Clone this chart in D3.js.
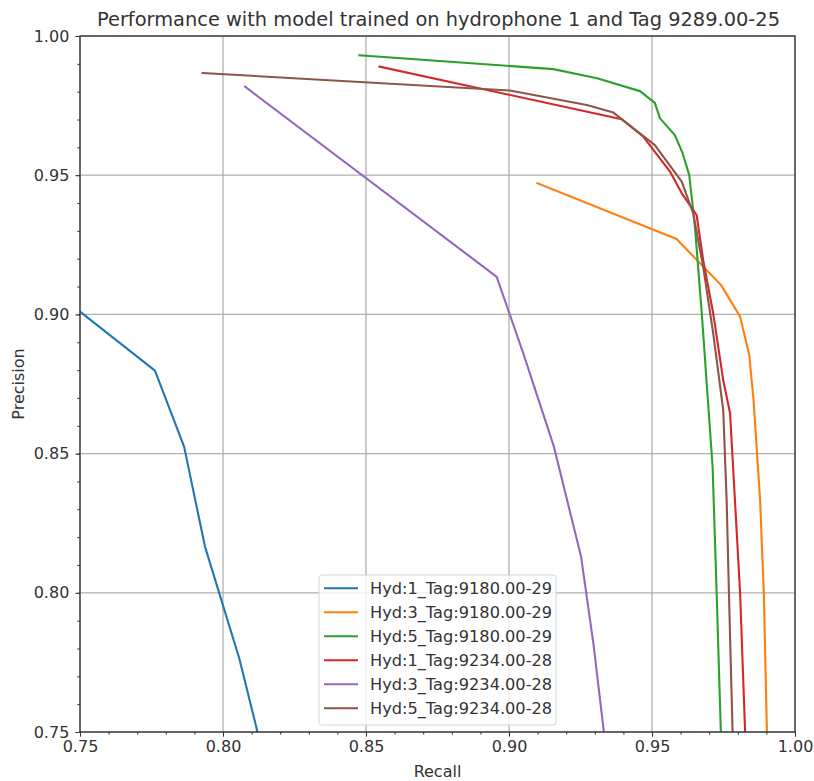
<!DOCTYPE html>
<html>
<head>
<meta charset="utf-8">
<script src="https://cdn.jsdelivr.net/npm/d3@7"></script>
<style>
  body { margin: 0; background: #fff; }
  svg { display: block; font-family: "DejaVu Sans", sans-serif; }
</style>
</head>
<body>
<svg id="chart" width="814" height="781"></svg>
<script>
// ---- data ----
const seriesNames = [
  "Hyd:1_Tag:9180.00-29",
  "Hyd:3_Tag:9180.00-29",
  "Hyd:5_Tag:9180.00-29",
  "Hyd:1_Tag:9234.00-28",
  "Hyd:3_Tag:9234.00-28",
  "Hyd:5_Tag:9234.00-28"
];
const seriesColors = ["#1f77b4", "#ff7f0e", "#2ca02c", "#d62728", "#9467bd", "#8c564b"];

const hyd1Tag9180Recall    = [0.7500, 0.7762, 0.7864, 0.7937, 0.8057, 0.8123];
const hyd1Tag9180Precision = [0.9010, 0.8798, 0.8525, 0.8166, 0.7764, 0.7490];

const hyd3Tag9180Recall    = [0.9099, 0.9586, 0.9741, 0.9808, 0.9840, 0.9855, 0.9878, 0.9891, 0.9902];
const hyd3Tag9180Precision = [0.9471, 0.9271, 0.9106, 0.8992, 0.8854, 0.8693, 0.8333, 0.8000, 0.7490];

const hyd5Tag9180Recall    = [0.8477, 0.9155, 0.9308, 0.9458, 0.9510, 0.9528, 0.9580, 0.9607, 0.9630, 0.9644, 0.9651, 0.9674, 0.9712, 0.9726, 0.9741];
const hyd5Tag9180Precision = [0.9931, 0.9881, 0.9848, 0.9802, 0.9760, 0.9704, 0.9644, 0.9579, 0.9501, 0.9375, 0.9303, 0.9005, 0.8450, 0.8000, 0.7490];

const hyd1Tag9234Recall    = [0.8547, 0.9394, 0.9470, 0.9563, 0.9604, 0.9656, 0.9679, 0.9714, 0.9749, 0.9773, 0.9790, 0.9808, 0.9826];
const hyd1Tag9234Precision = [0.9890, 0.9701, 0.9638, 0.9513, 0.9435, 0.9357, 0.9195, 0.9004, 0.8764, 0.8645, 0.8333, 0.8000, 0.7490];

const hyd3Tag9234Recall    = [0.8077, 0.8957, 0.9050, 0.9157, 0.9252, 0.9295, 0.9333];
const hyd3Tag9234Precision = [0.9818, 0.9135, 0.8860, 0.8525, 0.8130, 0.7818, 0.7490];

const hyd5Tag9234Recall    = [0.7929, 0.9003, 0.9272, 0.9365, 0.9510, 0.9604, 0.9644, 0.9679, 0.9714, 0.9749, 0.9761, 0.9769, 0.9782];
const hyd5Tag9234Precision = [0.9867, 0.9804, 0.9752, 0.9725, 0.9608, 0.9477, 0.9363, 0.9171, 0.8932, 0.8657, 0.8333, 0.8000, 0.7490];

const xTicks = [0.75, 0.80, 0.85, 0.90, 0.95, 1.00];
const yTicks = [0.75, 0.80, 0.85, 0.90, 0.95, 1.00];
const xDomain = [0.75, 1.00];
const yDomain = [0.75, 1.00];

const titleText = "Performance with model trained on hydrophone 1 and Tag 9289.00-25";
const xLabel = "Recall";
const yLabel = "Precision";

// ---- build ----
const recallSets = [hyd1Tag9180Recall, hyd3Tag9180Recall, hyd5Tag9180Recall, hyd1Tag9234Recall, hyd3Tag9234Recall, hyd5Tag9234Recall];
const precisionSets = [hyd1Tag9180Precision, hyd3Tag9180Precision, hyd5Tag9180Precision, hyd1Tag9234Precision, hyd3Tag9234Precision, hyd5Tag9234Precision];
const series = seriesNames.map((name, i) => ({
  name, color: seriesColors[i],
  points: recallSets[i].map((r, j) => [r, precisionSets[i][j]])
}));

const margin = {left: 80, top: 36, right: 19, bottom: 49};
const W = 814, H = 781;
const iw = W - margin.left - margin.right;
const ih = H - margin.top - margin.bottom;
const textColor = "#333";
const fs = 16;

const svg = d3.select("#chart");
const x = d3.scaleLinear().domain(xDomain).range([0, iw]);
const y = d3.scaleLinear().domain(yDomain).range([ih, 0]);

const g = svg.append("g").attr("transform", `translate(${margin.left},${margin.top})`);

svg.append("defs").append("clipPath").attr("id", "clip")
  .append("rect").attr("width", iw).attr("height", ih);

// grid
g.append("g").selectAll("line").data(xTicks).join("line")
  .attr("x1", d => x(d)).attr("x2", d => x(d)).attr("y1", 0).attr("y2", ih)
  .attr("stroke", "#b0b0b0").attr("stroke-width", 1.3);
g.append("g").selectAll("line").data(yTicks).join("line")
  .attr("y1", d => y(d)).attr("y2", d => y(d)).attr("x1", 0).attr("x2", iw)
  .attr("stroke", "#b0b0b0").attr("stroke-width", 1.3);

// lines
const line = d3.line().x(d => x(d[0])).y(d => y(d[1]));
g.append("g").attr("clip-path", "url(#clip)").selectAll("path").data(series).join("path")
  .attr("d", d => line(d.points))
  .attr("fill", "none").attr("stroke", d => d.color).attr("stroke-width", 2.1)
  .attr("stroke-linejoin", "round").attr("stroke-linecap", "square");

// axes
const minorX = d3.range(0, 26).map(i => 0.75 + i * 0.01);
const minorY = d3.range(0, 26).map(i => 0.75 + i * 0.01);

const xAxis = g.append("g").attr("transform", `translate(0,${ih})`);
xAxis.call(d3.axisBottom(x).tickValues(minorX).tickSize(2.7).tickFormat(""));
xAxis.append("g").call(d3.axisBottom(x).tickValues(xTicks).tickSize(4.7).tickPadding(4).tickFormat(d3.format(".2f")));
const yAxis = g.append("g");
yAxis.call(d3.axisLeft(y).tickValues(minorY).tickSize(2.7).tickFormat(""));
yAxis.append("g").call(d3.axisLeft(y).tickValues(yTicks).tickSize(4.7).tickPadding(6).tickFormat(d3.format(".2f")));

g.selectAll(".domain").remove();
g.selectAll(".tick line").attr("stroke", textColor).attr("stroke-width", 1);
g.selectAll(".tick text").attr("fill", textColor).attr("font-size", fs).attr("font-family", "DejaVu Sans");

// spines
g.append("rect").attr("width", iw).attr("height", ih).attr("fill", "none")
  .attr("stroke", textColor).attr("stroke-width", 1.3);

// title & labels
svg.append("text").attr("x", margin.left + iw / 2 + 1).attr("y", 26)
  .attr("text-anchor", "middle").attr("font-size", 19.4).attr("fill", textColor).text(titleText);
svg.append("text").attr("x", margin.left + iw / 2).attr("y", 777)
  .attr("text-anchor", "middle").attr("font-size", fs).attr("fill", textColor).text(xLabel);
svg.append("text").attr("transform", `translate(24,${margin.top + ih / 2}) rotate(-90)`)
  .attr("text-anchor", "middle").attr("font-size", fs).attr("fill", textColor).text(yLabel);

// legend
const lg = svg.append("g").attr("transform", "translate(319,575)");
lg.append("rect").attr("width", 237).attr("height", 150).attr("rx", 3)
  .attr("fill", "#fff").attr("fill-opacity", 0.8).attr("stroke", "#d5d5d5").attr("stroke-width", 1);
const items = lg.selectAll("g.item").data(series).join("g")
  .attr("transform", (d, i) => `translate(0,${13.3 + i * 24})`);
items.append("line").attr("x1", 5).attr("x2", 39).attr("y1", 0).attr("y2", 0)
  .attr("stroke", d => d.color).attr("stroke-width", 2.1);
items.append("text").attr("x", 51).attr("y", 5.8).attr("font-size", 16.2).attr("fill", textColor)
  .text(d => d.name);
</script>
</body>
</html>
